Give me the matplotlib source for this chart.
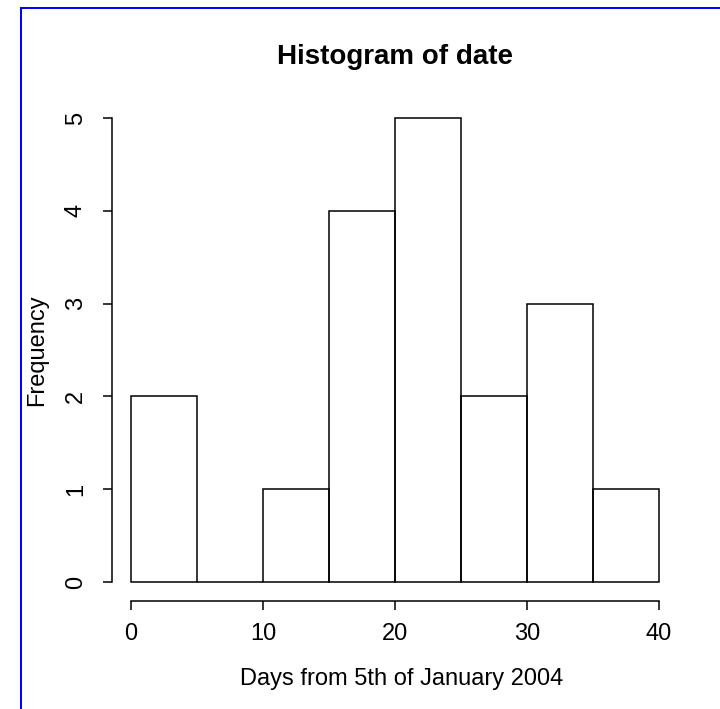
import matplotlib.pyplot as plt
from matplotlib.lines import Line2D

plt.rcParams["font.family"] = ["Liberation Sans", "DejaVu Sans"]

# ── Data ──────────────────────────────────────────────────────────────────────
bin_edges = [0, 5, 10, 15, 20, 25, 30, 35, 40]
counts = [2, 0, 1, 4, 5, 2, 3, 1]
x_ticks = [0, 10, 20, 30, 40]
y_ticks = [0, 1, 2, 3, 4, 5]

W, H = 720, 709
fig = plt.figure(figsize=(W / 100, H / 100), dpi=100)
fig.patch.set_facecolor("white")

# plot region in pixels: x 131..659, y 118..582
ax = fig.add_axes([131 / W, 1 - 582 / H, 528 / W, 464 / H])
ax.set_xlim(bin_edges[0], bin_edges[-1])
ax.set_ylim(0, max(counts))

widths = [b - a for a, b in zip(bin_edges[:-1], bin_edges[1:])]
ax.bar(bin_edges[:-1], counts, width=widths, align="edge", fill=False,
       edgecolor="black", linewidth=1.1, clip_on=False)

# R-style detached axes
for s in ["top", "right"]:
    ax.spines[s].set_visible(False)
px = 72 / 100
ax.spines["bottom"].set_position(("outward", 19 * px))
ax.spines["left"].set_position(("outward", 19 * px))
ax.spines["bottom"].set_bounds(x_ticks[0], x_ticks[-1])
ax.spines["left"].set_bounds(y_ticks[0], y_ticks[-1])
for s in ["bottom", "left"]:
    ax.spines[s].set_linewidth(1.1)

ax.set_xticks(x_ticks)
ax.set_yticks(y_ticks)
ax.tick_params(axis="both", length=9 * px, width=1.1, labelsize=17)
ax.tick_params(axis="x", pad=13 * px)
ax.tick_params(axis="y", pad=16 * px)
ax.set_yticklabels([str(v) for v in y_ticks], rotation=90, va="center")

# labels and title
fig.text(395 / W, 1 - 57 / H, "Histogram of date", ha="center", va="center",
         fontsize=20, fontweight="bold")
fig.text(402 / W, 1 - 679 / H, "Days from 5th of January 2004", ha="center",
         va="center", fontsize=17)
fig.text(37 / W, 1 - 350 / H, "Frequency", ha="center", va="center",
         rotation=90, fontsize=17)

# blue frame (cut off at right and bottom)
fig.add_artist(Line2D([20.5 / W, 20.5 / W], [0, 1 - 7.5 / H], color="#0000ff",
                      linewidth=2 * px, transform=fig.transFigure))
fig.add_artist(Line2D([20.5 / W, 1], [1 - 7.5 / H, 1 - 7.5 / H], color="#0000ff",
                      linewidth=2 * px, transform=fig.transFigure))

plt.savefig("out.png", dpi=100)
plt.close()
